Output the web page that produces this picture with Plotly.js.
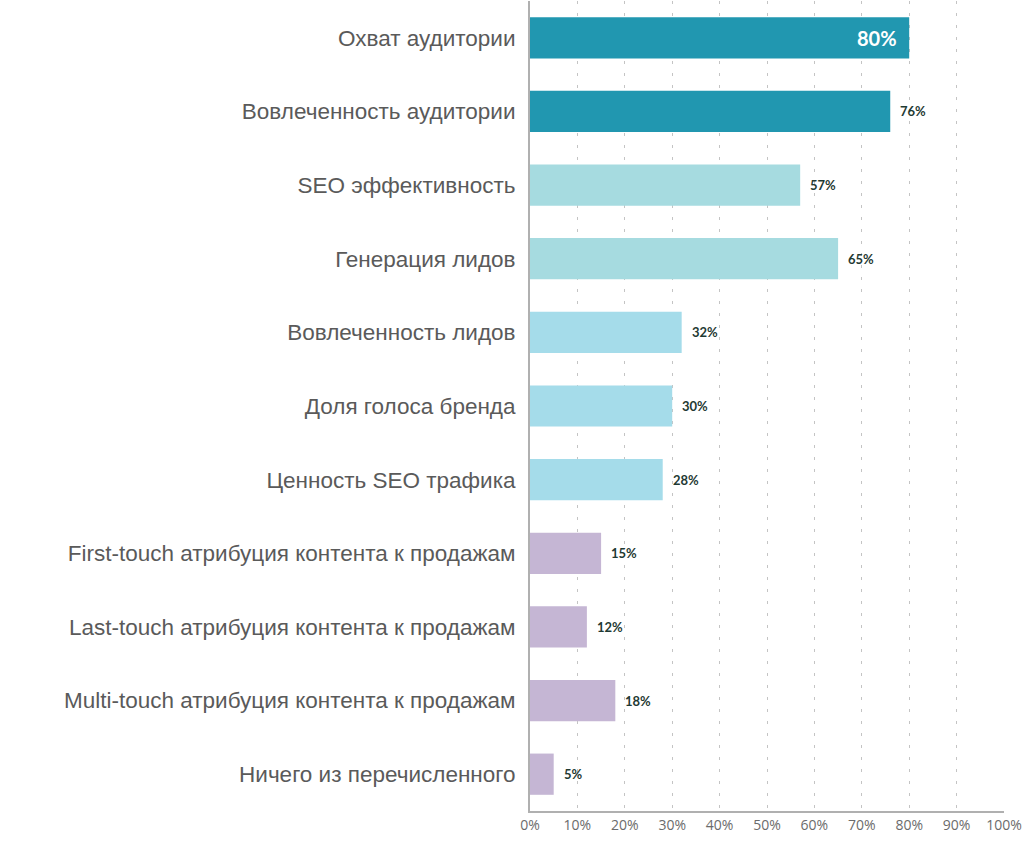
<!DOCTYPE html>
<html><head><meta charset="utf-8">
<script src="https://cdn.plot.ly/plotly-3.0.1.min.js"></script>
<style>body{margin:0;background:#fff}#c{width:1024px;height:846px}</style>
</head><body><div id="c"></div>
<script>
const categories = [
  "Охват аудитории",
  "Вовлеченность аудитории",
  "SEO эффективность",
  "Генерация лидов",
  "Вовлеченность лидов",
  "Доля голоса бренда",
  "Ценность SEO трафика",
  "First-touch атрибуция контента к продажам",
  "Last-touch атрибуция контента к продажам",
  "Multi-touch атрибуция контента к продажам",
  "Ничего из перечисленного"
];
const values = [80, 76, 57, 65, 32, 30, 28, 15, 12, 18, 5];
const barColors = ["#2197b0","#2197b0","#a6dbe0","#a6dbe0","#a5dcea","#a5dcea","#a5dcea","#c5b6d4","#c5b6d4","#c5b6d4","#c5b6d4"];
const tickVals = [0,10,20,30,40,50,60,70,80,90,100];
const tickText = ["0%","10%","20%","30%","40%","50%","60%","70%","80%","90%","100%"];

const trace = {
  type: "bar", orientation: "h",
  x: values, y: categories,
  marker: {color: barColors, line: {width: 0}},
  hoverinfo: "none"
};

const annotations = values.map((v, i) => {
  if (i === 0) {
    return {x: v, y: categories[i], xref: "x", yref: "y", text: v + "%",
      showarrow: false, xanchor: "right", xshift: -10,
      font: {family: "Lato, 'Open Sans', sans-serif", size: 20, color: "#ffffff", weight: 700}};
  }
  return {x: v, y: categories[i], xref: "x", yref: "y", text: v + "%",
    showarrow: false, xanchor: "left", xshift: 8,
    font: {family: "Lato, 'Open Sans', sans-serif", size: 13, color: "#1f3a33", weight: 700}};
});

const layout = {
  width: 1024, height: 846,
  margin: {l: 530, r: 20, t: 1, b: 35},
  paper_bgcolor: "#fff", plot_bgcolor: "#fff",
  showlegend: false,
  bargap: 0.44,
  xaxis: {
    range: [0, 100], tickvals: tickVals, ticktext: tickText,
    showgrid: true, gridcolor: "#c4c4c4", gridwidth: 1, griddash: "3px,9px",
    zeroline: false, showline: true, linecolor: "#b0b0b0", linewidth: 2,
    ticks: "", tickfont: {family: "'Open Sans', sans-serif", size: 14, color: "#6b6b6b"},
    fixedrange: true
  },
  yaxis: {
    autorange: "reversed", type: "category",
    showgrid: false, zeroline: false, showline: true, linecolor: "#b0b0b0", linewidth: 2,
    ticks: "", ticklabelstandoff: 8,
    tickfont: {family: "'Liberation Sans', Arial, sans-serif", size: 22.5, color: "#5a5a5a"},
    fixedrange: true
  },
  annotations: annotations
};

Plotly.newPlot("c", [trace], layout, {displayModeBar: false, staticPlot: true});
</script>
</body></html>
